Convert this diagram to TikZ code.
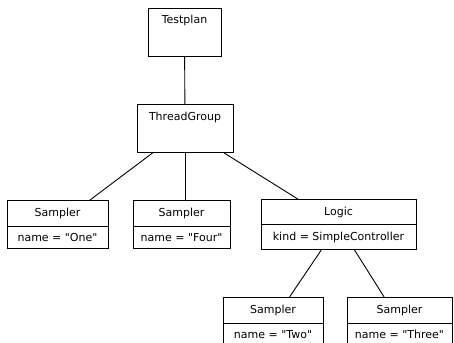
\documentclass[tikz,border=0pt]{standalone}
\usepackage{fontspec}
\setmainfont{DejaVu Sans}[Ligatures=TeXOff]
\usetikzlibrary{shapes.multipart}

\tikzset{
	base/.style={draw, line width=0.9pt, font=\fontsize{11}{13}\selectfont},
	element/.style={base, inner xsep=0pt, inner ysep=5pt, text height=11pt, text depth=27pt},
	component/.style={base, rectangle split, rectangle split parts=2, inner xsep=0pt, inner ysep=6.5pt, text height=9pt, text depth=2.5pt},
	edge/.style={line width=0.9pt}
}

\begin{document}
\begin{tikzpicture}[x=1pt, y=-1pt]
		\useasboundingbox (0,0) rectangle (454,342);
		\clip (0,0) rectangle (454,342);
		% plan and thread group
		\node[element, minimum width=73pt] (plan) at (184.5,32) {Testplan};
		\node[element, minimum width=96pt] (group) at (185,128.5) {ThreadGroup};
		% children of the thread group
		\node[component, minimum width=101pt] (one) at (57.5,224.5) {Sampler \nodepart{two} name = "One"};
		\node[component, minimum width=97pt] (four) at (181.5,224.5) {Sampler \nodepart{two} name = "Four"};
		\node[component, minimum width=155pt] (logic) at (338.5,224.5) {Logic \nodepart{two} kind = SimpleController};
		% children of the logic
		\node[component, minimum width=100pt] (two) at (273,321.5) {Sampler \nodepart{two} name = "Two"};
		\node[component, minimum width=105pt] (three) at (399.5,321.5) {Sampler \nodepart{two} name = "Three"};
		% tree edges
		\foreach \a/\b in {plan/group, group/one, group/logic, logic/two, logic/three}
		{
			\draw[edge] (\a) -- (\b);
		}
		\draw[edge] (group) -- (group |- four.north);
	\end{tikzpicture}
\end{document}
